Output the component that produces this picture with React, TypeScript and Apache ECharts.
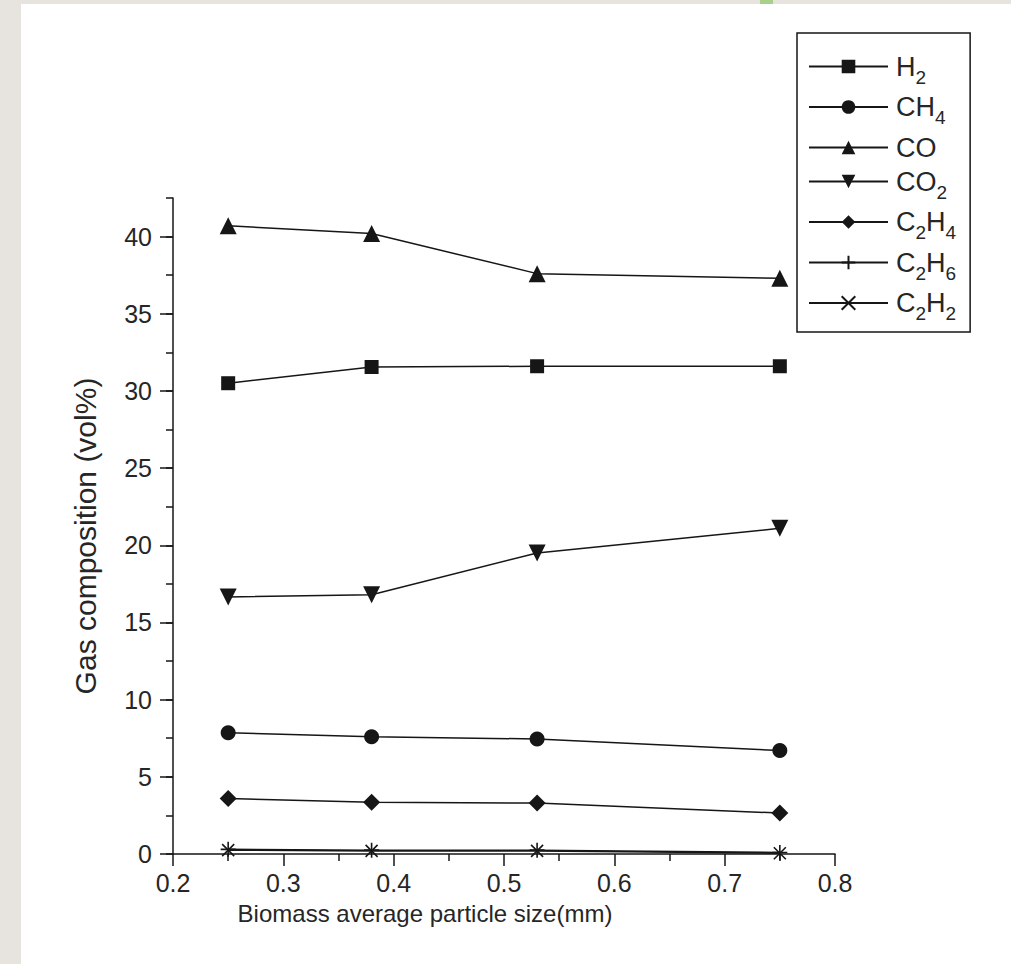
import { useEffect, useRef } from 'react';
import * as echarts from 'echarts';

// Biomass average particle size (mm)
const particleSize = [0.25, 0.38, 0.53, 0.75];

// Gas composition (vol%)
const h2 = [30.5, 31.55, 31.6, 31.6];
const ch4 = [7.85, 7.6, 7.45, 6.7];
const co = [40.7, 40.2, 37.6, 37.3];
const co2 = [16.65, 16.8, 19.5, 21.1];
const c2h4 = [3.6, 3.35, 3.3, 2.65];
const c2h6 = [0.3, 0.25, 0.25, 0.1];
const c2h2 = [0.25, 0.2, 0.2, 0.05];

const gasNames = ['H2', 'CH4', 'CO', 'CO2', 'C2H4', 'C2H6', 'C2H2'];
const gasValues = [h2, ch4, co, co2, c2h4, c2h6, c2h2];

const yMajorTicks = [0, 5, 10, 15, 20, 25, 30, 35, 40];

const FONT = '"Liberation Sans", Arial, Helvetica, sans-serif';
const INK = '#161616';
const TEXT = '#262626';

const SYMBOLS: Record<string, { symbol: string; size: number; stroke?: boolean }> = {
  H2: { symbol: 'rect', size: 14 },
  CH4: { symbol: 'circle', size: 15 },
  CO: { symbol: 'triangle', size: 17 },
  CO2: { symbol: 'path://M0,0L10,0L5,9Z', size: 17 },
  C2H4: { symbol: 'diamond', size: 17 },
  C2H6: { symbol: 'path://M0,5L10,5M5,0L5,10', size: 15, stroke: true },
  C2H2: { symbol: 'path://M0,0L10,10M10,0L0,10', size: 12, stroke: true },
};

// Chemical formula -> rich text with subscript digits
function formula(name: string): string {
  return name.replace(/([A-Za-z]+)|(\d+)/g, (_m, letters, digits) =>
    letters ? `{m|${letters}}` : `{s|${digits}}`
  );
}

export default function App() {
  const ref = useRef<HTMLDivElement>(null);

  useEffect(() => {
    if (!ref.current) return;
    const chart = echarts.init(ref.current, undefined, { renderer: 'svg' });

    const series = gasNames.map((name, i) => {
      const s = SYMBOLS[name];
      return {
        name,
        type: 'line',
        xAxisIndex: 0,
        yAxisIndex: 0,
        data: particleSize.map((x, j) => [x, gasValues[i][j]]),
        symbol: s.symbol,
        symbolSize: s.size,
        showAllSymbol: true,
        lineStyle: { color: INK, width: 1.5 },
        itemStyle: s.stroke
          ? { color: 'rgba(0,0,0,0)', borderColor: INK, borderWidth: 1.6 }
          : { color: INK, borderWidth: 0 },
        emphasis: { disabled: true },
        z: 3,
      };
    });

    chart.setOption({
      animation: false,
      backgroundColor: '#e7e3df',
      textStyle: { fontFamily: FONT },
      graphic: [
        {
          type: 'rect',
          z: -10,
          silent: true,
          shape: { x: 21, y: 4, width: 990, height: 960 },
          style: { fill: '#ffffff' },
        },
        {
          type: 'rect',
          z: -10,
          silent: true,
          shape: { x: 760, y: 0, width: 13, height: 4 },
          style: { fill: '#a8d08c' },
        },
      ],
      grid: { left: 173, top: 198, width: 662, height: 656, containLabel: false },
      legend: {
        orient: 'vertical',
        left: 797,
        top: 33,
        padding: [20, 14, 9, 11],
        itemGap: 7,
        itemWidth: 79,
        itemHeight: 17,
        borderColor: INK,
        borderWidth: 1.5,
        backgroundColor: '#ffffff',
        selectedMode: false,
        data: gasNames,
        formatter: (name: string) => formula(name),
        textStyle: {
          color: TEXT,
          fontFamily: FONT,
          padding: [0, 0, 0, 3],
          rich: {
            m: { fontSize: 27, lineHeight: 40, fontFamily: FONT, color: TEXT },
            s: {
              fontSize: 19,
              lineHeight: 40,
              verticalAlign: 'bottom',
              fontFamily: FONT,
              color: TEXT,
            },
          },
        },
      },
      xAxis: {
        type: 'value',
        min: 0.2,
        max: 0.8,
        interval: 0.1,
        name: 'Biomass average particle size(mm)',
        nameLocation: 'middle',
        nameGap: 47,
        nameTextStyle: {
          fontSize: 24,
          color: TEXT,
          fontFamily: FONT,
          padding: [0, 158, 0, 0],
        },
        axisLine: { show: true, onZero: false, lineStyle: { color: INK, width: 1.5 } },
        axisTick: { show: true, inside: false, length: 12, lineStyle: { color: INK, width: 1.5 } },
        minorTick: { show: true, splitNumber: 2, length: 7, lineStyle: { color: INK, width: 1.5 } },
        splitLine: { show: false },
        minorSplitLine: { show: false },
        axisLabel: {
          fontSize: 25,
          color: TEXT,
          margin: 16,
          fontFamily: FONT,
          formatter: (v: number) => v.toFixed(1),
        },
      },
      yAxis: [
        {
          type: 'value',
          position: 'left',
          min: 0,
          max: 42.5,
          interval: 2.5,
          name: 'Gas composition (vol%)',
          nameLocation: 'middle',
          nameGap: 73,
          nameRotate: 90,
          nameTextStyle: {
            fontSize: 30,
            color: TEXT,
            fontFamily: FONT,
            padding: [0, 20, 0, 0],
          },
          axisLine: { show: true, onZero: false, lineStyle: { color: INK, width: 1.5 } },
          axisTick: { show: true, inside: false, length: 7, lineStyle: { color: INK, width: 1.5 } },
          splitLine: { show: false },
          axisLabel: {
            fontSize: 25,
            color: TEXT,
            margin: 21,
            fontFamily: FONT,
            formatter: (v: number) => (Math.abs(v % 5) < 1e-9 ? String(v) : ''),
          },
        },
        {
          // longer major ticks every 5 units
          type: 'value',
          position: 'left',
          min: 0,
          max: 42.5,
          interval: 5,
          axisLine: { show: false },
          axisTick: {
            show: true,
            inside: false,
            length: 13,
            customValues: yMajorTicks,
            lineStyle: { color: INK, width: 1.5 },
          },
          axisLabel: { show: false },
          splitLine: { show: false },
        },
      ],
      series,
    });

    return () => chart.dispose();
  }, []);

  return (
    <div
      ref={ref}
      style={{ position: 'absolute', left: 0, top: 0, width: 1011, height: 964 }}
    />
  );
}
